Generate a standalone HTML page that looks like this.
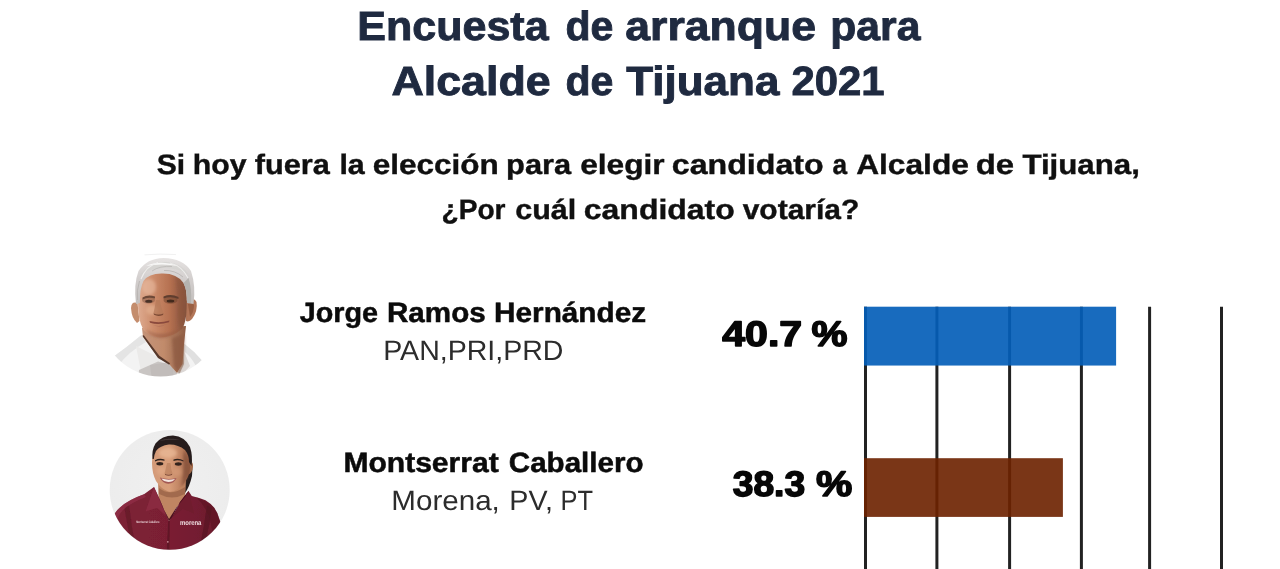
<!DOCTYPE html>
<html lang="es">
<head>
<meta charset="utf-8">
<title>Encuesta de arranque para Alcalde de Tijuana 2021</title>
<style>
  html, body { margin: 0; padding: 0; background: #ffffff; }
  body { width: 1280px; height: 569px; overflow: hidden; position: relative;
         font-family: "Liberation Sans", sans-serif; }
  svg#stage { position: absolute; left: 0; top: 0; width: 1280px; height: 569px; display: block; }
  svg text { font-family: "Liberation Sans", sans-serif; text-rendering: geometricPrecision; }
  .title { font-weight: 700; font-size: 40.8px; fill: #1f2a40; stroke: #1f2a40; stroke-width: 0.9px; }
  .question { font-weight: 700; font-size: 28.1px; fill: #101010; stroke: #101010; stroke-width: 0.4px; }
  .name { font-weight: 700; font-size: 28px; fill: #0b0b0b; stroke: #0b0b0b; stroke-width: 0.5px; }
  .party { font-weight: 400; font-size: 28px; fill: #2c2c2c; }
  .pct { font-weight: 700; font-size: 35.5px; fill: #070707; stroke: #070707; stroke-width: 1.5px; stroke-linejoin: round; }
  .grid line { stroke: #222222; stroke-width: 3; }
</style>
</head>
<body>
<svg id="stage" viewBox="0 0 1280 569" width="1280" height="569">
  <rect x="0" y="0" width="1280" height="569" fill="#ffffff"/>

  <!-- Heading -->
  <g id="heading" opacity="0.999">
    <text class="title" y="39.5"><tspan x="357.3" textLength="191.3" lengthAdjust="spacingAndGlyphs">Encuesta</tspan> <tspan x="565.5" textLength="47.9" lengthAdjust="spacingAndGlyphs">de</tspan> <tspan x="625.3" textLength="190.8" lengthAdjust="spacingAndGlyphs">arranque</tspan> <tspan x="830.2" textLength="90.2" lengthAdjust="spacingAndGlyphs">para</tspan></text>
    <text class="title" y="95.3"><tspan x="391.4" textLength="159.3" lengthAdjust="spacingAndGlyphs">Alcalde</tspan> <tspan x="565.5" textLength="47.9" lengthAdjust="spacingAndGlyphs">de</tspan> <tspan x="626.2" textLength="153.2" lengthAdjust="spacingAndGlyphs">Tijuana</tspan> <tspan x="791.5" textLength="93.1" lengthAdjust="spacingAndGlyphs">2021</tspan></text>
  </g>

  <!-- Question -->
  <g id="question" opacity="0.999">
    <text class="question" y="174.3"><tspan x="156.7" textLength="28.4" lengthAdjust="spacingAndGlyphs">Si</tspan> <tspan x="192.7" textLength="53.8" lengthAdjust="spacingAndGlyphs">hoy</tspan> <tspan x="254.8" textLength="75.1" lengthAdjust="spacingAndGlyphs">fuera</tspan> <tspan x="339.4" textLength="25.4" lengthAdjust="spacingAndGlyphs">la</tspan> <tspan x="372.7" textLength="126.1" lengthAdjust="spacingAndGlyphs">elección</tspan> <tspan x="506.1" textLength="65.0" lengthAdjust="spacingAndGlyphs">para</tspan> <tspan x="580.2" textLength="84.5" lengthAdjust="spacingAndGlyphs">elegir</tspan> <tspan x="671.8" textLength="151.9" lengthAdjust="spacingAndGlyphs">candidato</tspan> <tspan x="832.6" textLength="14.6" lengthAdjust="spacingAndGlyphs">a</tspan> <tspan x="856.2" textLength="112.7" lengthAdjust="spacingAndGlyphs">Alcalde</tspan> <tspan x="975.7" textLength="38.4" lengthAdjust="spacingAndGlyphs">de</tspan> <tspan x="1022.4" textLength="117.5" lengthAdjust="spacingAndGlyphs">Tijuana,</tspan></text>
    <text class="question" y="219.3"><tspan x="441.5" textLength="64.0" lengthAdjust="spacingAndGlyphs">¿Por</tspan> <tspan x="515.2" textLength="61.1" lengthAdjust="spacingAndGlyphs">cuál</tspan> <tspan x="583.8" textLength="151.0" lengthAdjust="spacingAndGlyphs">candidato</tspan> <tspan x="742.7" textLength="116.7" lengthAdjust="spacingAndGlyphs">votaría?</tspan></text>
  </g>

  <!-- Chart grid -->
  <g class="grid" id="grid">
    <line x1="865.5" y1="306.7" x2="865.5" y2="569"/>
    <line x1="936.9" y1="306.7" x2="936.9" y2="569"/>
    <line x1="1009.6" y1="306.7" x2="1009.6" y2="569"/>
    <line x1="1081.4" y1="306.7" x2="1081.4" y2="569"/>
    <line x1="1149.6" y1="306.7" x2="1149.6" y2="569"/>
    <line x1="1221.5" y1="306.7" x2="1221.5" y2="569"/>
  </g>

  <!-- Bars -->
  <g id="bars">
    <rect x="864" y="306.7" width="252.1" height="58.85" fill="#045eb9" fill-opacity="0.92"/>
    <rect x="864" y="458.2" width="198.9" height="58.7" fill="#6d2200" fill-opacity="0.91"/>
  </g>

  <!-- Candidate 1 -->
  <g id="cand1" opacity="0.999">
    <text class="name" y="321.6"><tspan x="299.7" textLength="78.3" lengthAdjust="spacingAndGlyphs">Jorge</tspan> <tspan x="387.0" textLength="98.7" lengthAdjust="spacingAndGlyphs">Ramos</tspan> <tspan x="494.1" textLength="152.0" lengthAdjust="spacingAndGlyphs">Hernández</tspan></text>
    <text class="party" y="360.2"><tspan x="383.2" textLength="180.3" lengthAdjust="spacingAndGlyphs">PAN,PRI,PRD</tspan></text>
    <text class="pct" y="346.3"><tspan x="722.3" textLength="79.8" lengthAdjust="spacingAndGlyphs">40.7</tspan> <tspan x="811.4" textLength="36.0" lengthAdjust="spacingAndGlyphs">%</tspan></text>
  </g>

  <!-- Candidate 2 -->
  <g id="cand2" opacity="0.999">
    <text class="name" y="471.7"><tspan x="343.4" textLength="155.3" lengthAdjust="spacingAndGlyphs">Montserrat</tspan> <tspan x="508.8" textLength="134.7" lengthAdjust="spacingAndGlyphs">Caballero</tspan></text>
    <text class="party" y="510.2"><tspan x="391.3" textLength="108.5" lengthAdjust="spacingAndGlyphs">Morena,</tspan> <tspan x="509.3" textLength="43.6" lengthAdjust="spacingAndGlyphs">PV,</tspan> <tspan x="560.5" textLength="32.5" lengthAdjust="spacingAndGlyphs">PT</tspan></text>
    <text class="pct" y="496.3"><tspan x="732.7" textLength="72.5" lengthAdjust="spacingAndGlyphs">38.3</tspan> <tspan x="816.1" textLength="36.3" lengthAdjust="spacingAndGlyphs">%</tspan></text>
  </g>

  <defs>
    <clipPath id="clip1"><circle cx="160.5" cy="316.5" r="60"/></clipPath>
    <filter id="soft1" x="-20%" y="-20%" width="140%" height="140%"><feGaussianBlur stdDeviation="0.55"/></filter>
    <filter id="soft2" x="-20%" y="-20%" width="140%" height="140%"><feGaussianBlur stdDeviation="1.6"/></filter>
    <linearGradient id="skinA" x1="0" y1="0" x2="1" y2="0">
      <stop offset="0" stop-color="#deab90"/>
      <stop offset="0.3" stop-color="#cd8d6c"/>
      <stop offset="0.65" stop-color="#b67151"/>
      <stop offset="1" stop-color="#81503c"/>
    </linearGradient>
    <linearGradient id="neckA" x1="0" y1="0" x2="1" y2="0">
      <stop offset="0" stop-color="#c5947a"/>
      <stop offset="0.5" stop-color="#c18b6b"/>
      <stop offset="1" stop-color="#8f5e45"/>
    </linearGradient>
    <linearGradient id="hairA" x1="0" y1="0" x2="0" y2="1">
      <stop offset="0" stop-color="#e6e3e2"/>
      <stop offset="0.45" stop-color="#d3cfce"/>
      <stop offset="1" stop-color="#c3bfbd"/>
    </linearGradient>
  </defs>
  <path d="M144.5,254.9 Q160,253.4 176,254.6" stroke="#f1f1f1" stroke-width="1" fill="none"/>
  <g id="portrait1" clip-path="url(#clip1)">
    <g filter="url(#soft1)">
      <!-- shirt -->
      <path d="M104,382 L113,357 Q127,347 141.5,335 L160,350 L184,343.5 Q194,351 202.5,361 L212,382 Z" fill="#f3f3f3"/>
      <path d="M113,357 Q127,347 141.5,335 L146,342 Q128,352 118,366 Z" fill="#e4e4e4"/>
      <path d="M184,343.5 Q194,351 202.5,361 L196,366 Q190,355 182,350 Z" fill="#e0e0e0"/>
      <path d="M136,346 L141,372 L166,365 L158,357 Z" fill="#ebeae9"/>
      <path d="M139,370 L158,361.5 L170,364.5 L177,373.5 L176,382 L138,382 Z" fill="#c9c5c3"/>
      <path d="M150,365 L166,362.5 L173,368 L174,380 L152,380 Z" fill="#bdb8b6" opacity="0.7"/>
      <path d="M182,346 L190,366 L179,378 L177.5,372.5 L182.5,364 Z" fill="#dcd8d6"/>
      <path d="M181.5,344 L183.5,344 L184,364 L179.5,374 L178,372 L182,364 Z" fill="#a08878" opacity="0.7"/>
      <!-- neck -->
      <path d="M142,328 L143,337 L158,357 L169,364 L177,373 L182.5,364 L184,344 L186,326 Z" fill="url(#neckA)"/>
      <!-- collar shadow line -->
      <path d="M142.3,335.8 L143.8,335.2 L159.3,355.8 L170,363.2 L169.2,364.8 L158,358 Z" fill="#56382c"/>
      <!-- ears -->
      <path d="M137.5,303 Q131.5,301 131,308 Q131.5,318 137,323 L139.5,321 Z" fill="#c48d6d"/>
      <path d="M185.5,301 Q193,296 196.5,302 Q198,311 192,319 Q189,322.5 186,321 Z" fill="#b37658"/>
      <path d="M188,304 Q192,301 194,305 Q194,312 190,317 Z" fill="#94593f" opacity="0.8"/>
      <!-- face -->
      <path d="M138,300 Q137,284 141.5,277 Q150,271.5 162,272.5 Q178,272 184.5,279 Q187.5,290 186.5,308 Q186.5,322 182,329 Q172,337.5 160,337.5 Q150,337 143.5,330 Q137.5,320 138,300 Z" fill="url(#skinA)"/>
    </g>
    <g filter="url(#soft2)">
      <path d="M172,338 L184,334 L184,346 L182.5,364 L177,373 L174,366 Z" fill="#8d5b42" opacity="0.8"/>
      <!-- forehead highlight -->
      <ellipse cx="149" cy="287" rx="7" ry="8" fill="#e9bda2" opacity="0.6"/>
      <ellipse cx="152" cy="310" rx="6" ry="5" fill="#e3b090" opacity="0.7"/>
      <!-- right face shade -->
      <path d="M176,276 Q186,284 186,308 Q185,324 180,330 Q176,320 178,300 Z" fill="#8b543b" opacity="0.55"/>
      <!-- chin/jaw shade -->
      <path d="M145,329 Q160,339 180,329 Q172,338 160,338 Q150,337 145,329 Z" fill="#8b543b" opacity="0.5"/>
    </g>
    <g filter="url(#soft1)">
      <ellipse cx="148.5" cy="300" rx="6.5" ry="3.6" fill="#7b4f3b" opacity="0.45"/>
      <ellipse cx="170.5" cy="300" rx="7" ry="3.8" fill="#6b402e" opacity="0.5"/>
      <!-- brows / eyes -->
      <path d="M142.5,297.5 Q148,294 155,296.5 L155,298.5 Q148,296.5 142.5,299.5 Z" fill="#6e4a38"/>
      <path d="M163.5,296.5 Q171,293.5 178.5,297 L178.5,299 Q171,296 163.5,298.5 Z" fill="#5f3e2f"/>
      <ellipse cx="148.8" cy="301.3" rx="3.6" ry="1.5" fill="#4a3026"/>
      <ellipse cx="170.5" cy="301" rx="3.8" ry="1.5" fill="#43291f"/>
      <!-- nose -->
      <path d="M156,300 Q154.5,309 153.5,313 Q158,316 163.5,313.5 Q161,308 160,300 Z" fill="#b57a59" opacity="0.75"/>
      <path d="M153.5,313.2 Q158,315.8 163.5,313.6 L163,315 Q158,317 154,314.8 Z" fill="#7d4a34"/>
      <!-- mouth -->
      <path d="M149.5,321 Q159,323.5 169.5,320.5 L169,322.2 Q159,325.5 150,322.8 Z" fill="#8a4a3c"/>
      <path d="M152,324.5 Q159,327.5 166.5,324 Q160,329 152,324.5 Z" fill="#b06e58" opacity="0.8"/>
      <!-- hair -->
      <path d="M136,304 Q133.5,284 138.5,271 Q147,258.2 163.5,258 Q183,258.5 191,271 Q196,286 193.5,304 L187,303 Q187.5,291 183.5,283 Q177,273.5 163,273.5 Q149,273 143.5,281 Q139.5,289 140,303 Z" fill="url(#hairA)"/>
      <path d="M140,275 Q150,262 165,262 Q181,262.5 189,275 Q178,268 164,268 Q150,268 140,275 Z" fill="#d0cfcc" opacity="0.55"/>
      <path d="M146,266 Q160,259.5 178,266 Q162,263 146,266 Z" fill="#f7f7f6"/>
      <path d="M141,279 Q146,266 158,262.5" stroke="#f2f1f0" stroke-width="1.1" fill="none" opacity="0.9"/>
      <path d="M152,271 Q160,265.5 172,266.5" stroke="#bab6b4" stroke-width="0.9" fill="none" opacity="0.8"/>
      <path d="M170,263 Q182,266 188,278" stroke="#efeeed" stroke-width="1.1" fill="none" opacity="0.9"/>
      <path d="M137.5,300 Q136.5,290 139.5,281" stroke="#b5b1af" stroke-width="1" fill="none" opacity="0.8"/>
      <path d="M164,270.5 Q175,270 183,277" stroke="#b8b4b2" stroke-width="1" fill="none" opacity="0.8"/>
      <path d="M183.5,283 Q187.5,291 187,303 L191,303 Q192,288 188.5,278 Z" fill="#b5b3b0"/>
    </g>
  </g>
  <defs>
    <clipPath id="clip2"><circle cx="169.7" cy="490" r="59.8"/></clipPath>
    <linearGradient id="skinB" x1="0" y1="0" x2="1" y2="0">
      <stop offset="0" stop-color="#d39a78"/>
      <stop offset="0.45" stop-color="#d99e7a"/>
      <stop offset="0.8" stop-color="#b97d5c"/>
      <stop offset="1" stop-color="#91573e"/>
    </linearGradient>
    <linearGradient id="shirtB" x1="0" y1="0" x2="1" y2="0">
      <stop offset="0" stop-color="#7d2236"/>
      <stop offset="0.5" stop-color="#7a1f33"/>
      <stop offset="1" stop-color="#6a1a2c"/>
    </linearGradient>
    <radialGradient id="bgB" cx="0.5" cy="0.45" r="0.6">
      <stop offset="0" stop-color="#f0f0f0"/>
      <stop offset="1" stop-color="#ececec"/>
    </radialGradient>
  </defs>
  <circle cx="169.7" cy="490" r="60" fill="url(#bgB)"/>
  <g id="portrait2" clip-path="url(#clip2)">
    <g filter="url(#soft1)">
      <!-- ponytail behind neck -->
      <path d="M186,450 Q194,461 192,476 Q189.5,487 185,493 L179,491 Q185,474 183,455 Z" fill="#241c1c"/>
      <!-- neck -->
      <path d="M158,480 L158.5,497 L163,508 L169,521 L176,508 L185,498 L186,480 Z" fill="#c08562"/>
      <path d="M159,488 Q170,497 185,487 L185,494 Q172,501 159,494 Z" fill="#8e5a40" opacity="0.6"/>
      <!-- shirt body -->
      <path d="M108,556 L112,520 Q114.5,512 120,507.5 Q128,500 144,494.3 L154,487 L169,521 L188.5,491 L191.8,496 Q200,498 205.5,500.2 Q211,503.5 214,507.6 Q218,513 219.5,519.5 L232,556 Z" fill="url(#shirtB)"/>
      <!-- sleeve shading -->
      <path d="M124,506 Q128,528 131,545 L136,548 Q131,526 129,503 Z" fill="#5a1424" opacity="0.5"/>
      <path d="M212,508 Q209,528 205,544 L200,547 Q204,526 207,505 Z" fill="#4f1120" opacity="0.55"/>
      <path d="M112,520 Q114.5,512 120,507.5 Q128,500 144,494.3 L146,497 Q130,503 123,510 Q118,515 116,524 Z" fill="#93324a" opacity="0.7"/>
      <path d="M196,497 Q211,503.5 214,507.6 Q218,513 219.5,519.5 L232,556 L214,556 Q214,530 208,514 Q204,505 196,497 Z" fill="#561322" opacity="0.45"/>
      <!-- collar -->
      <path d="M154,487 L145.5,511.5 L157,508 L166.5,516 L160,500 Z" fill="#8a2a3f"/>
      <path d="M188.5,491 L193.8,513.3 L183,509 L172,517.5 L180,502 Z" fill="#6f1b2e"/>
      <path d="M154,487 L160,500 L166.5,516 L169,521 L172,517.5 L180,502 L188.5,491 L185,497 L176,508 L169,519 L163,508 L158.5,497 Z" fill="#4a0f1d"/>
      <!-- placket -->
      <path d="M168.2,521 L169.8,521 L169.4,552 L166.6,552 Z" fill="#5a1424" opacity="0.8"/>
      <circle cx="167.8" cy="541.8" r="0.9" fill="#c88a94"/>
      <!-- ear -->
      <path d="M189,462 Q193.5,461 193,467 Q192,473 188.5,474.5 Z" fill="#a26a4b"/>
      <!-- face -->
      <path d="M152,463 Q151.8,452 158,446.5 Q166,442.5 176,444 Q186,446.5 189.5,456 Q191,466 189,474 Q186,483 179,488.5 Q173,492.5 168.5,491.5 Q161,489 156,481 Q152,473 152,463 Z" fill="url(#skinB)"/>
    </g>
    <g filter="url(#soft2)">
      <ellipse cx="168" cy="453" rx="9" ry="5" fill="#ebba98" opacity="0.7"/>
      <ellipse cx="161" cy="471" rx="4.5" ry="4" fill="#e4ab88" opacity="0.6"/>
      <ellipse cx="177.5" cy="472" rx="4" ry="4" fill="#dba07c" opacity="0.5"/>
      <path d="M184,450 Q190,458 189,474 Q186,483 181,487 Q184,472 183,458 Z" fill="#7a4833" opacity="0.6"/>
    </g>
    <g filter="url(#soft1)">
      <!-- brows -->
      <path d="M155,460.3 Q159.5,457.8 164.5,459.6 L164.5,460.8 Q159.5,459.5 155,461.6 Z" fill="#2e211d"/>
      <path d="M173.5,459.6 Q178.5,457.8 183.5,460.4 L183.5,461.6 Q178.5,459.5 173.5,460.9 Z" fill="#2e211d"/>
      <!-- eyes -->
      <ellipse cx="159.8" cy="463.8" rx="3.5" ry="1.7" fill="#33231e"/>
      <ellipse cx="178.3" cy="464" rx="3.5" ry="1.7" fill="#33231e"/>
      <!-- nose -->
      <path d="M167,463 Q165.5,470 164.5,473.5 Q168.5,476 172.5,473.5 Q171,469 170.5,463 Z" fill="#b67c58" opacity="0.6"/>
      <path d="M164.8,473.8 Q168.5,475.6 172.3,473.8 L172,475 Q168.5,476.5 165.2,475 Z" fill="#7d4a36"/>
      <!-- mouth -->
      <path d="M159.8,477.6 Q168,480.2 176.5,478 Q174.5,483.5 168.3,483.8 Q162.5,483.5 159.8,477.6 Z" fill="#a45a55"/>
      <path d="M161.5,478.6 Q168,480.6 175,478.9 Q173,481.8 168.3,481.9 Q163.5,481.8 161.5,478.6 Z" fill="#f4e6e0"/>
      <!-- hair -->
      <path d="M152.6,459 Q151.5,450 155.5,443.5 Q162,435.5 173,435.5 Q185,436.5 190,447 Q193,456 191.5,466 L189,462 Q189,455 185,450 Q178,444.2 169,444.5 Q160,445.5 156,451 Q154,455 153.8,459 Z" fill="#271e1e"/>
      <path d="M159,441 Q168,437 180,440 Q170,439 159,441 Z" fill="#4a3d3d" opacity="0.8"/>
    </g>
    <!-- embroidered shirt text -->
    <text x="136.2" y="523.3" font-size="3.4" font-weight="700" fill="#f0dfe2" textLength="23.2" lengthAdjust="spacingAndGlyphs" opacity="0.9">Montserrat Caballero</text>
    <text x="180" y="524.5" font-size="7" font-weight="700" fill="#f6eaec" textLength="21.4" lengthAdjust="spacingAndGlyphs" opacity="0.95">morena</text>
  </g>
  <!-- PORTRAITS -->
</svg>
</body>
</html>
